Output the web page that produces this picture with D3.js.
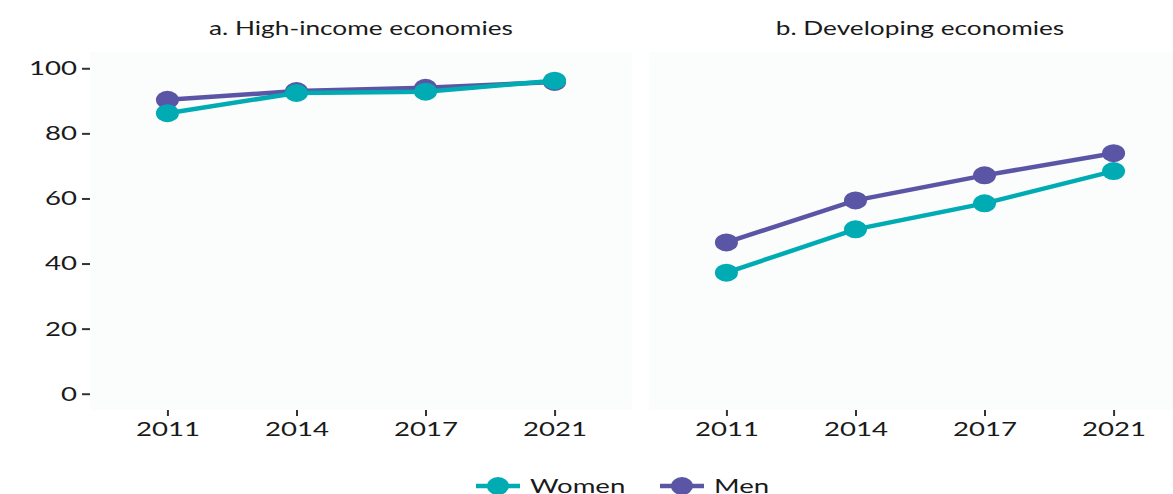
<!DOCTYPE html>
<html>
<head>
<meta charset="utf-8">
<script src="https://cdn.jsdelivr.net/npm/d3@7"></script>
<style>
  body { margin: 0; background: #fff; }
  text { font-family: "Lato", "Noto Sans", sans-serif; fill: #1a1a1a; }
</style>
</head>
<body>
<div id="chart"></div>
<script>
const years = ["2011", "2014", "2017", "2021"];
const panels = ["a. High-income economies", "b. Developing economies"];
const series = ["Women", "Men"];
const highWomen = [86.2, 92.4, 92.8, 96.2];
const highMen = [90.3, 93.0, 94.0, 95.8];
const devWomen = [37.2, 50.5, 58.5, 68.4];
const devMen = [46.5, 59.4, 67.1, 73.9];
const yTicks = [0, 20, 40, 60, 80, 100];

const colors = { Women: "#00abb4", Men: "#5b55a5" };

const svgWidth = 1173;
const svgHeight = 494;
const stretchK = 1.38; // the original is drawn wide

const svg = d3.select("#chart")
    .append("svg")
    .attr("width", svgWidth)
    .attr("height", svgHeight);

// widen text horizontally like the reference
function stretch(sel) {
    sel.each(function() {
        const w = this.getComputedTextLength();
        d3.select(this)
            .attr("textLength", w * stretchK)
            .attr("lengthAdjust", "spacingAndGlyphs");
    });
}

const panelData = [
    { title: panels[0], x0: 90, x1: 632, Women: highWomen, Men: highMen },
    { title: panels[1], x0: 649, x1: 1191, Women: devWomen, Men: devMen }
];

const y = d3.scaleLinear().domain([-5, 105]).range([410, 52]);

panelData.forEach((p, i) => {
    const x = d3.scalePoint().domain(years).range([p.x0, p.x1]).padding(0.6);
    const g = svg.append("g");

    g.append("rect")
        .attr("x", p.x0).attr("y", y(105))
        .attr("width", p.x1 - p.x0).attr("height", y(-5) - y(105))
        .attr("fill", "#fbfcfc");

    g.append("text")
        .attr("x", (p.x0 + p.x1) / 2).attr("y", 35)
        .attr("text-anchor", "middle")
        .attr("font-size", 19)
        .text(p.title)
        .call(stretch);

    // x axis
    const xAxis = g.append("g")
        .attr("transform", `translate(0, ${y(-5)})`)
        .call(d3.axisBottom(x).tickSize(6).tickPadding(6));
    xAxis.select(".domain").remove();
    xAxis.selectAll("line").attr("stroke", "#333").attr("stroke-width", 2);
    xAxis.selectAll("text").attr("font-size", 20).attr("fill", "#1a1a1a")
        .style("font-family", "Lato, 'Noto Sans', sans-serif")
        .call(stretch);

    if (i === 0) {
        const yAxis = g.append("g")
            .attr("transform", `translate(${p.x0}, 0)`)
            .call(d3.axisLeft(y).tickValues(yTicks).tickSize(8).tickPadding(5));
        yAxis.select(".domain").remove();
        yAxis.selectAll("line").attr("stroke", "#333").attr("stroke-width", 2);
        yAxis.selectAll("text").attr("font-size", 20).attr("fill", "#1a1a1a")
            .style("font-family", "Lato, 'Noto Sans', sans-serif")
            .call(stretch);
    }

    const line = d3.line()
        .x((d, k) => x(years[k]))
        .y(d => y(d));

    // men first, women drawn on top
    ["Men", "Women"].forEach(s => {
        g.append("path")
            .datum(p[s])
            .attr("d", line)
            .attr("fill", "none")
            .attr("stroke", colors[s])
            .attr("stroke-width", 4.5);
        g.selectAll(null)
            .data(p[s])
            .enter()
            .append("ellipse")
            .attr("cx", (d, k) => x(years[k]))
            .attr("cy", d => y(d))
            .attr("rx", 11.5)
            .attr("ry", 9)
            .attr("fill", colors[s]);
    });
});

// legend
const legendX = [474, 658];
series.forEach((s, i) => {
    const lg = svg.append("g").attr("transform", `translate(${legendX[i]}, 486)`);
    lg.append("line")
        .attr("x1", 2).attr("x2", 46)
        .attr("stroke", colors[s]).attr("stroke-width", 4.5);
    lg.append("ellipse").attr("cx", 24).attr("rx", 11).attr("ry", 9).attr("fill", colors[s]);
    lg.append("text")
        .attr("x", 56).attr("y", 7)
        .attr("font-size", 20)
        .text(s)
        .call(stretch);
});
</script>
</body>
</html>
